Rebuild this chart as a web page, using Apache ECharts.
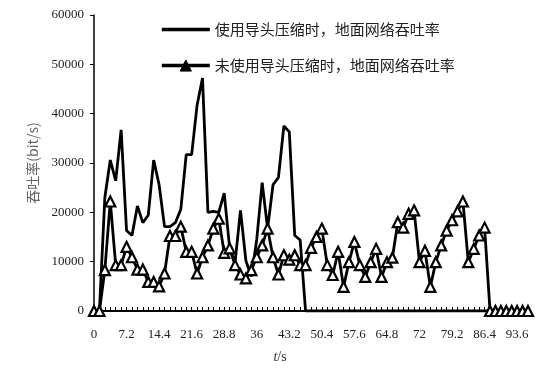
<!DOCTYPE html>
<html>
<head>
<meta charset="utf-8">
<script src="https://cdn.jsdelivr.net/npm/echarts@6/dist/echarts.min.js"></script>
<style>
html,body{margin:0;padding:0;background:#fff;}
#chart{width:554px;height:369px;}
</style>
</head>
<body>
<div id="chart"></div>
<script>
// Time categories (s), step 1.2 s
var times = ["0","1.2","2.4","3.6","4.8","6","7.2","8.4","9.6","10.8","12","13.2","14.4","15.6","16.8","18","19.2","20.4","21.6","22.8","24","25.2","26.4","27.6","28.8","30","31.2","32.4","33.6","34.8","36","37.2","38.4","39.6","40.8","42","43.2","44.4","45.6","46.8","48","49.2","50.4","51.6","52.8","54","55.2","56.4","57.6","58.8","60","61.2","62.4","63.6","64.8","66","67.2","68.4","69.6","70.8","72","73.2","74.4","75.6","76.8","78","79.2","80.4","81.6","82.8","84","85.2","86.4","87.6","88.8","90","91.2","92.4","93.6","94.8","96"];

var seriesNames = ["使用导头压缩时，地面网络吞吐率", "未使用导头压缩时，地面网络吞吐率"];

// With header compression
var withCompression = [0,0,23000,30600,26400,36700,16300,15300,21300,17900,19400,30600,25600,17100,17100,17900,20600,31700,31700,41700,47200,20000,20200,20000,23900,12800,9800,20400,10200,7000,14500,26000,16700,25600,27100,37500,36300,15300,14400,0,0,0,0,0,0,0,0,0,0,0,0,0,0,0,0,0,0,0,0,0,0,0,0,0,0,0,0,0,0,0,0,0,0,0,0,0,0,0,0,0,0];

// Without header compression
var withoutCompression = [0,0,8300,22200,9300,9300,13000,10900,8400,8400,5900,5900,5000,7600,15200,15200,17100,12000,12000,7600,10900,13300,16700,18700,11800,12700,9300,7400,6600,8300,10900,13300,16700,10900,7400,11300,10400,11300,9300,9300,12800,15000,16700,9300,7300,12000,4900,9900,14000,9300,6900,9900,12600,6900,9900,10800,18000,16900,19700,20400,9900,12200,4900,9900,13300,16300,18400,20200,22200,9900,12600,15300,16900,0,0,0,0,0,0,0,0];

var yTicks = {min: 0, max: 60000, interval: 10000};

var chart = echarts.init(document.getElementById('chart'), null, {renderer: 'canvas'});
var serif = "'Liberation Serif', 'DejaVu Serif', serif";
var cjk = "'Noto Sans CJK SC', sans-serif";

chart.setOption({
  animation: false,
  backgroundColor: '#ffffff',
  grid: {left: 94, right: 26, top: 15, bottom: 58, containLabel: false},
  legend: {
    orient: 'vertical',
    left: 155,
    top: 17,
    itemWidth: 48,
    itemHeight: 14,
    itemGap: 21,
    lineStyle: {width: 3.6},
    textStyle: {fontFamily: cjk, fontSize: 15, color: '#222'},
    data: [
      {name: seriesNames[0], itemStyle: {opacity: 0}},
      {name: seriesNames[1], itemStyle: {color: '#000', borderColor: '#000', borderWidth: 1}}
    ]
  },
  xAxis: {
    type: 'category',
    data: times,
    boundaryGap: false,
    name: '{i|t}/s',
    nameLocation: 'middle',
    nameGap: 39,
    nameTextStyle: {
      fontFamily: serif, fontSize: 14, color: '#333',
      padding: [0, 62, 0, 0],
      rich: {i: {fontStyle: 'italic', fontFamily: serif, fontSize: 14, color: '#333'}}
    },
    axisLine: {lineStyle: {color: '#000', width: 2}},
    axisTick: {show: true, inside: true, length: 4, interval: 0, lineStyle: {color: '#000', width: 1}},
    axisLabel: {interval: 5, margin: 17, fontFamily: serif, fontSize: 13, color: '#222'},
    splitLine: {show: false}
  },
  yAxis: {
    type: 'value',
    min: yTicks.min,
    max: yTicks.max,
    interval: yTicks.interval,
    name: '吞吐率(bit/s)',
    nameLocation: 'middle',
    nameGap: 54,
    nameRotate: 90,
    nameTextStyle: {fontFamily: cjk, fontSize: 14, color: '#666'},
    axisLine: {show: true, lineStyle: {color: '#000', width: 1.5}},
    axisTick: {show: true, inside: false, length: 4, lineStyle: {color: '#000'}},
    axisLabel: {margin: 10, fontFamily: serif, fontSize: 13, color: '#222', formatter: function (v) { return String(v); }},
    splitLine: {show: false}
  },
  series: [
    {
      name: seriesNames[0],
      type: 'line',
      data: withCompression,
      symbol: 'none',
      lineStyle: {color: '#000', width: 2.8},
      itemStyle: {color: '#000'}
    },
    {
      name: seriesNames[1],
      type: 'line',
      data: withoutCompression,
      symbol: 'triangle',
      symbolSize: 10,
      showAllSymbol: true,
      lineStyle: {color: '#000', width: 2.8},
      itemStyle: {color: '#fff', borderColor: '#000', borderWidth: 2.2}
    }
  ]
});
</script>
</body>
</html>
